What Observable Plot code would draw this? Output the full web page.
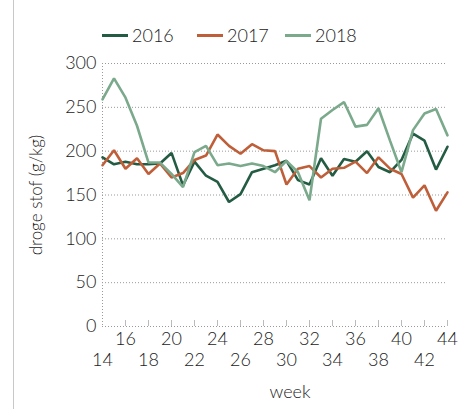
<!DOCTYPE html>
<html><head><meta charset="utf-8">
<script src="https://cdn.jsdelivr.net/npm/d3@7"></script>
<script src="https://cdn.jsdelivr.net/npm/@observablehq/plot@0.6"></script>
<style>
body{margin:0;background:#fff;font-family:Lato,sans-serif;}
#wrap{position:relative;width:469px;height:409px;overflow:hidden;background:#fff}
#border{position:absolute;left:13px;top:0;width:1px;height:409px;background:#c8c8c8}
#legend{position:absolute;left:0;top:0;width:469px;height:50px}
.item{position:absolute;top:24px;height:22px;display:flex;align-items:center;font-size:18px;font-weight:300;color:#222;line-height:22px}
.sw{width:26px;height:3px;margin-right:4px}
#chart{position:absolute;left:0;top:50px}
</style></head><body>
<div id="wrap"><div id="border"></div><div id="legend"></div><div id="chart"></div></div>
<script>
const weeks = [14,15,16,17,18,19,20,21,22,23,24,25,26,27,28,29,30,31,32,33,34,35,36,37,38,39,40,41,42,43,44];
const years = ["2016","2017","2018"];
const colors = ["#235c43","#bf5f3a","#7ba98c"];
const v2016 = [193,185,188,185,185,186,198,161,188,172,165,142,151,176,180,184,189,167,162,192,172,191,188,200,182,176,190,220,212,179,205];
const v2017 = [184,201,180,192,174,186,170,175,190,195,219,206,197,208,201,200,162,180,183,170,180,181,188,175,193,180,174,147,161,132,153];
const v2018 = [259,283,261,229,187,187,174,159,199,206,184,186,183,186,183,176,189,176,144,237,247,256,228,230,249,212,176,224,243,248,218];
const yTicks = [0,50,100,150,200,250,300];
const xTickMarks = [16,18,20,22,24,26,28,30,32,34,36,38,40,42,44];
const xLabelsRow1 = [16,20,24,28,32,36,40,44];
const xLabelsRow2 = [14,18,22,26,30,34,38,42];
const yLabel = "droge stof (g/kg)";
const xLabel = "week";

const series = [v2016, v2017, v2018];
const data = [];
years.forEach((y, i) => weeks.forEach((w, j) => data.push({year: y, week: w, value: series[i][j]})));

const legend = document.getElementById("legend");
const lefts = [102, 197, 285];
years.forEach((y, i) => {
  const it = document.createElement("div");
  it.className = "item";
  it.style.left = lefts[i] + "px";
  it.innerHTML = `<span class="sw" style="background:${colors[i]}"></span><span>${y}</span>`;
  legend.appendChild(it);
});

const chart = Plot.plot({
  width: 469, height: 359,
  marginTop: 13, marginBottom: 83, marginLeft: 102, marginRight: 22,
  style: {fontFamily: "Lato, sans-serif", fontSize: "18px", fontWeight: 300, color: "#222", background: "transparent"},
  x: {domain: [14, 44]},
  y: {domain: [0, 300]},
  color: {domain: years, range: colors},
  marks: [
    Plot.gridY(yTicks, {stroke: "#999", strokeOpacity: 1, strokeDasharray: "1,2"}),
    Plot.gridX([weeks[0]], {stroke: "#999", strokeOpacity: 1, strokeDasharray: "1,2"}),
    Plot.axisX(xTickMarks, {tickSize: 6, dy: -6, tickFormat: () => "", stroke: "#bbb", label: null}),
    Plot.axisX(xLabelsRow1, {tickSize: 0, tickPadding: 6, label: null, fontSize: 18}),
    Plot.axisX(xLabelsRow2, {tickSize: 0, tickPadding: 27, label: null, fontSize: 18}),
    Plot.axisY(yTicks, {tickSize: 0, tickPadding: 6, label: null, fontSize: 18}),
    Plot.line(data, {x: "week", y: "value", stroke: "year", strokeWidth: 2.6, strokeLinejoin: "miter"}),
    Plot.text([yLabel], {frameAnchor: "left", textAnchor: "middle", lineAnchor: "middle", dx: -66, rotate: -90, fontSize: 17, fill: "#222"}),
    Plot.text([xLabel], {frameAnchor: "bottom", textAnchor: "middle", lineAnchor: "middle", dy: 66, dx: 15, fontSize: 18, fill: "#222"})
  ]
});
document.getElementById("chart").appendChild(chart);
</script>
</body></html>
